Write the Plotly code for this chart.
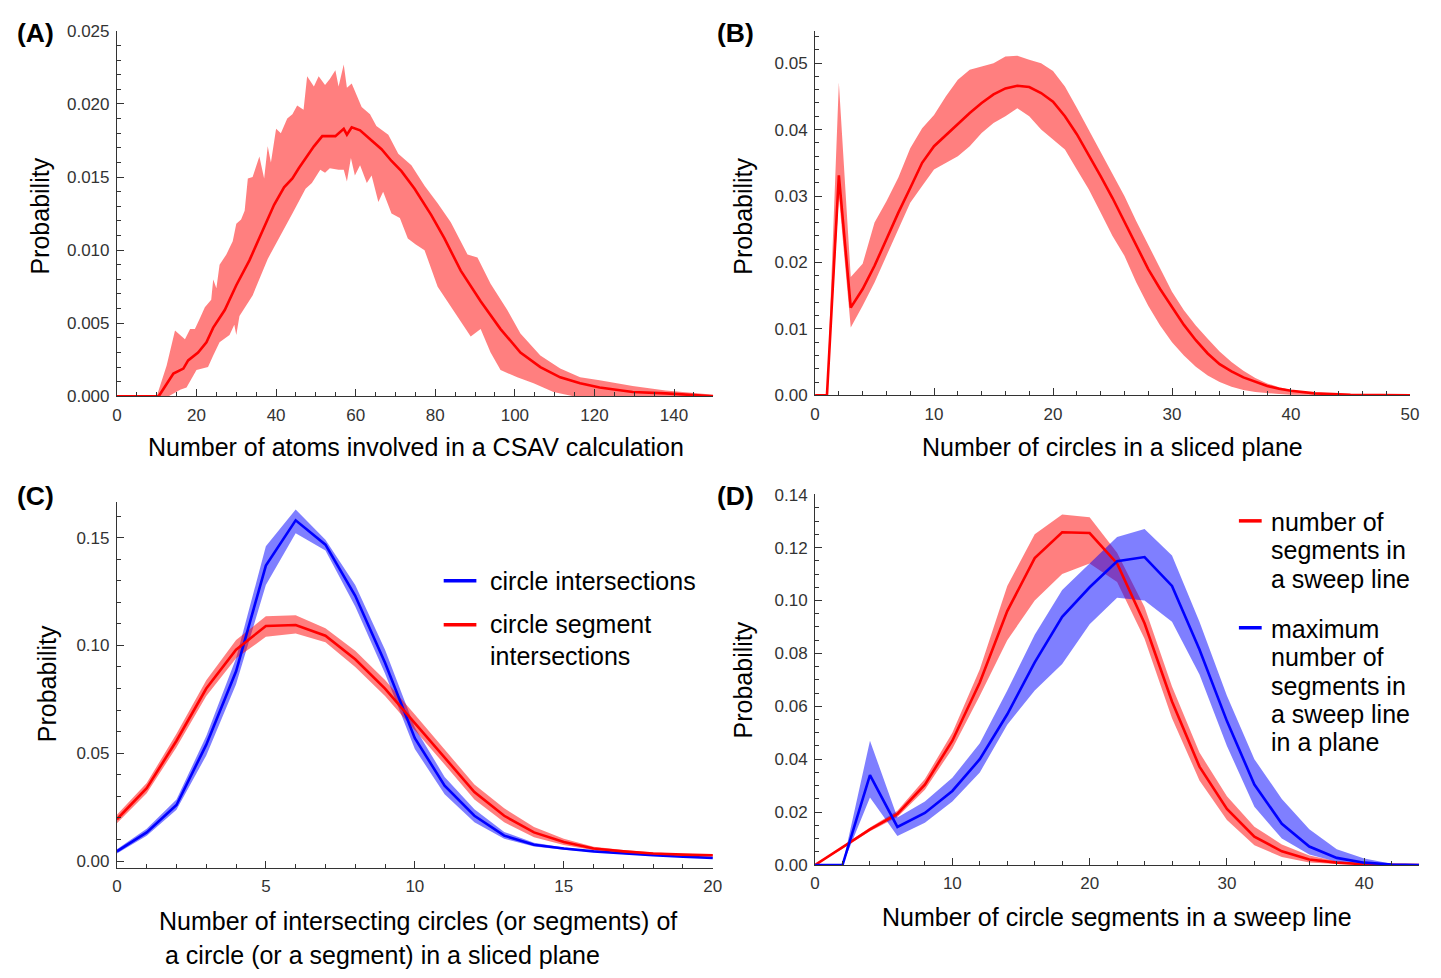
import plotly.graph_objects as go

W, H = 1441, 978

# ---------------- Panel A: atoms involved in a CSAV calculation ----------------
a_mean_x = [0, 10, 10.5, 14.2, 16.7, 17.9, 20.4, 22.5, 24.2, 27.1, 30.0, 33.3, 36.6, 39.5, 42.0,
            44.1, 45.7, 47.4, 49.5, 51.6, 54.9, 57.0, 57.8, 59.0, 61.1, 64.0, 66.5, 69.0, 71.5,
            74.8, 79.0, 82.3, 86.4, 91.4, 96.4, 101.4, 106.4, 111.4, 116.4, 121.3, 129.6, 137.9,
            150]
a_mean = [0, 0, 0, 0.00156, 0.0019, 0.00246, 0.0030, 0.0037, 0.0047, 0.0059, 0.0076, 0.0093,
          0.0113, 0.0131, 0.0143, 0.0149, 0.0156, 0.0163, 0.0171, 0.0178, 0.0178, 0.0183, 0.0179,
          0.0184, 0.0182, 0.0175, 0.0169, 0.0161, 0.0154, 0.0142, 0.0124, 0.0108, 0.0086, 0.0065,
          0.0046, 0.0030, 0.0020, 0.0013, 0.0009, 0.0006, 0.0003, 0.0002, 0.0]
a_up_x = [10, 12.5, 14.6, 15.4, 17.1, 18.4, 19.6, 20.8, 22.1, 23.7, 24.2, 25.0, 25.8, 27.5, 29.1,
          30.0, 31.2, 32.1, 32.9, 34.1, 35.8, 37.0, 37.9, 38.7, 40.0, 41.2, 42.8, 44.1, 45.3,
          46.9, 47.8, 49.5, 50.7, 52.3, 53.5, 54.9, 55.7, 57.0, 57.8, 59.0, 61.5, 63.6, 65.2,
          68.2, 70.7, 74.0, 77.3, 80.6, 83.9, 88.1, 90.6, 93.9, 98.1, 101.4, 106.4, 111.4, 116.4,
          121.3, 129.6, 137.9, 150]
a_up = [0, 0.0021, 0.0045, 0.0043, 0.0039, 0.0046, 0.0046, 0.0053, 0.0061, 0.0066, 0.0080, 0.0074,
        0.0090, 0.0097, 0.0106, 0.0118, 0.0121, 0.0127, 0.0149, 0.0150, 0.0164, 0.0149, 0.0171,
        0.0160, 0.0183, 0.0180, 0.0190, 0.0193, 0.0199, 0.0196, 0.0219, 0.0212, 0.0219, 0.0213,
        0.0217, 0.0223, 0.0212, 0.0227, 0.0211, 0.0214, 0.0198, 0.0193, 0.0185, 0.0179, 0.0166,
        0.0158, 0.0144, 0.0132, 0.0119, 0.0097, 0.0095, 0.0077, 0.0059, 0.0043, 0.0028, 0.0019,
        0.0013, 0.0011, 0.0007, 0.0004, 0.0001]
a_lo_x = [10, 13.0, 15.9, 17.5, 20.0, 22.9, 24.2, 25.8, 28.3, 29.5, 30.0, 30.8, 34.1, 37.9, 40.8,
          44.1, 47.4, 49.0, 51.1, 52.3, 53.5, 55.7, 57.0, 57.8, 58.8, 59.8, 61.1, 62.8, 64.0,
          65.7, 66.9, 69.0, 71.1, 73.1, 75.0, 77.3, 80.6, 83.9, 88.9, 91.4, 93.9, 96.4, 100.6,
          104.7, 109.7, 114.7, 150]
a_lo = [0, 0, 0.00045, 0.0006, 0.0018, 0.0020, 0.0028, 0.0037, 0.0042, 0.0049, 0.0042, 0.0055,
        0.0069, 0.0094, 0.0108, 0.0125, 0.0142, 0.0146, 0.0155, 0.0153, 0.0156, 0.0155, 0.0155,
        0.0147, 0.0163, 0.0151, 0.0158, 0.0146, 0.0151, 0.0133, 0.0140, 0.0125, 0.0122, 0.0108,
        0.0104, 0.0100, 0.0075, 0.0061, 0.0041, 0.0046, 0.0030, 0.0018, 0.0013, 0.0009, 0.0003,
        0.0, 0.0]

# ---------------- Panel B: circles in a sliced plane ----------------
b_x = [0, 1, 2, 3, 4, 5, 6, 7, 8, 9, 10, 11, 12, 13, 14, 15, 16, 17, 18, 19, 20, 21, 22, 23, 24,
       25, 26, 27, 28, 29, 30, 31, 32, 33, 34, 35, 36, 37, 38, 39, 40, 42, 45, 50]
b_mean = [0, 0, 0.0331, 0.0132, 0.0160, 0.0195, 0.0235, 0.0275, 0.0312, 0.0350, 0.0375, 0.0392,
          0.0408, 0.0425, 0.0440, 0.0453, 0.0462, 0.0466, 0.0464, 0.0455, 0.0442, 0.0420, 0.0393,
          0.0362, 0.0330, 0.0297, 0.0262, 0.0226, 0.0190, 0.0160, 0.0132, 0.0106, 0.0083, 0.0063,
          0.0047, 0.0036, 0.0027, 0.0020, 0.0014, 0.0010, 0.0007, 0.0003, 0.0001, 0.0]
b_up = [0, 0, 0.0471, 0.0178, 0.0198, 0.0260, 0.0292, 0.0328, 0.0372, 0.0402, 0.0422, 0.0450,
        0.0475, 0.0490, 0.0495, 0.0500, 0.0510, 0.0511, 0.0505, 0.0500, 0.0488, 0.0465, 0.0433,
        0.0400, 0.0368, 0.0335, 0.0300, 0.0262, 0.0226, 0.0190, 0.0156, 0.0128, 0.0105, 0.0085,
        0.0066, 0.0050, 0.0037, 0.0026, 0.0018, 0.0012, 0.0008, 0.0004, 0.0002, 0.0]
b_lo = [0, 0, 0.0300, 0.0102, 0.0135, 0.0170, 0.0210, 0.0250, 0.0290, 0.0315, 0.0340, 0.0350,
        0.0360, 0.0375, 0.0395, 0.0410, 0.0420, 0.0432, 0.0420, 0.0400, 0.0385, 0.0370, 0.0340,
        0.0310, 0.0275, 0.0240, 0.0210, 0.0170, 0.0135, 0.0105, 0.0080, 0.0060, 0.0043, 0.0030,
        0.0020, 0.0013, 0.0008, 0.0005, 0.0003, 0.0002, 0.0001, 0, 0, 0]

# ---------------- Panel C: intersecting circles / segments ----------------
c_x = list(range(21))
c_blue = [0.0045, 0.0133, 0.0260, 0.0540, 0.0880, 0.1370, 0.1580, 0.1467, 0.1230, 0.0920, 0.0570,
          0.0350, 0.0210, 0.0118, 0.0076, 0.0058, 0.0045, 0.0035, 0.0027, 0.0020, 0.0015]
c_blue_up = [0.0055, 0.0150, 0.0285, 0.0580, 0.0940, 0.1460, 0.1630, 0.1490, 0.1280, 0.0980,
             0.0620, 0.0390, 0.0240, 0.0135, 0.0085, 0.0063, 0.0048, 0.0037, 0.0029, 0.0022, 0.0017]
c_blue_lo = [0.0035, 0.0118, 0.0238, 0.0490, 0.0820, 0.1280, 0.1520, 0.1440, 0.1180, 0.0870,
             0.0520, 0.0310, 0.0180, 0.0103, 0.0068, 0.0053, 0.0042, 0.0033, 0.0025, 0.0018, 0.0013]
c_red = [0.0194, 0.0338, 0.0558, 0.0800, 0.0980, 0.1090, 0.1095, 0.1045, 0.0936, 0.0800, 0.0640,
         0.0480, 0.0320, 0.0210, 0.0133, 0.0088, 0.0058, 0.0045, 0.0035, 0.0030, 0.0027]
c_red_up = [0.0215, 0.0362, 0.0590, 0.0838, 0.1025, 0.1135, 0.1140, 0.1080, 0.0975, 0.0840, 0.0680,
            0.0515, 0.0355, 0.0245, 0.0158, 0.0103, 0.0067, 0.0051, 0.0040, 0.0034, 0.0030]
c_red_lo = [0.0175, 0.0315, 0.0528, 0.0765, 0.0940, 0.1040, 0.1055, 0.1015, 0.0900, 0.0765, 0.0605,
            0.0448, 0.0285, 0.0180, 0.0110, 0.0075, 0.0050, 0.0040, 0.0031, 0.0026, 0.0024]

# ---------------- Panel D: circle segments in a sweep line ----------------
d_x = [0, 2, 4, 6, 8, 10, 12, 14, 16, 18, 20, 22, 24, 26, 28, 30, 32, 34, 36, 38, 40, 42, 44]
d_red = [0, 0.0066, 0.0135, 0.0193, 0.0304, 0.0470, 0.0690, 0.0960, 0.1160, 0.1258, 0.1255, 0.1140,
         0.0914, 0.0618, 0.0372, 0.0212, 0.0107, 0.0052, 0.0021, 0.0009, 0.0003, 0.0001, 0]
d_red_up = [0, 0.0070, 0.0142, 0.0205, 0.0325, 0.0500, 0.0740, 0.1055, 0.1250, 0.1325, 0.1315,
            0.1180, 0.0975, 0.0675, 0.0425, 0.0260, 0.0145, 0.0078, 0.0036, 0.0014, 0.0005, 0.0001, 0]
d_red_lo = [0, 0.0062, 0.0128, 0.0182, 0.0285, 0.0440, 0.0640, 0.0850, 0.1000, 0.1100, 0.1140,
            0.1070, 0.0855, 0.0555, 0.0320, 0.0170, 0.0075, 0.0030, 0.0010, 0.0004, 0.0001, 0, 0]
d_blue = [0, 0, 0.0340, 0.0144, 0.0197, 0.0280, 0.0400, 0.0570, 0.0766, 0.0938, 0.1050, 0.1148,
          0.1164, 0.1055, 0.0815, 0.0544, 0.0304, 0.0156, 0.0070, 0.0027, 0.0009, 0.0002, 0]
d_blue_up = [0, 0, 0.0470, 0.0180, 0.0240, 0.0330, 0.0460, 0.0660, 0.0870, 0.1040, 0.1140, 0.1240,
             0.1270, 0.1170, 0.0920, 0.0640, 0.0400, 0.0250, 0.0135, 0.0060, 0.0025, 0.0005, 0]
d_blue_lo = [0, 0, 0.0255, 0.0110, 0.0160, 0.0240, 0.0350, 0.0530, 0.0660, 0.0760, 0.0910, 0.1010,
             0.1000, 0.0920, 0.0720, 0.0450, 0.0220, 0.0100, 0.0040, 0.0012, 0.0003, 0, 0]

RED, RED_BAND = "#ff0000", "rgba(255,0,0,0.5)"
BLUE, BLUE_BAND = "#0000ff", "rgba(0,0,255,0.5)"
FONT = "Liberation Sans, Arial, sans-serif"


def px(x):
    return x / W


def py(y):
    return 1 - y / H


fig = go.Figure()


def add_band(xu, yu, xl, yl, color, xa, ya):
    fig.add_trace(go.Scatter(
        x=list(xu) + list(xl)[::-1], y=list(yu) + list(yl)[::-1],
        mode="lines", fill="toself", fillcolor=color, line=dict(width=0),
        hoverinfo="skip", showlegend=False, xaxis=xa, yaxis=ya))


def add_line(x, y, color, xa, ya):
    fig.add_trace(go.Scatter(
        x=x, y=y, mode="lines", line=dict(color=color, width=2.6),
        showlegend=False, xaxis=xa, yaxis=ya))


# A
add_band(a_up_x, a_up, a_lo_x, a_lo, RED_BAND, "x", "y")
add_line(a_mean_x, a_mean, RED, "x", "y")
# B
add_band(b_x, b_up, b_x, b_lo, RED_BAND, "x2", "y2")
add_line(b_x, b_mean, RED, "x2", "y2")
# C
add_band(c_x, c_blue_up, c_x, c_blue_lo, BLUE_BAND, "x3", "y3")
add_band(c_x, c_red_up, c_x, c_red_lo, RED_BAND, "x3", "y3")
add_line(c_x, c_blue, BLUE, "x3", "y3")
add_line(c_x, c_red, RED, "x3", "y3")
# D
add_band(d_x, d_red_up, d_x, d_red_lo, RED_BAND, "x4", "y4")
add_band(d_x, d_blue_up, d_x, d_blue_lo, BLUE_BAND, "x4", "y4")
add_line(d_x, d_red, RED, "x4", "y4")
add_line(d_x, d_blue, BLUE, "x4", "y4")


def axis(dom, rng, dtick, mdtick, fmt, anchor):
    return dict(
        domain=dom, range=rng, tick0=0, dtick=dtick, tickformat=fmt,
        ticks="inside", ticklen=7, tickwidth=1, tickcolor="#333",
        minor=dict(dtick=mdtick, tick0=0, ticks="inside", ticklen=4, tickwidth=1,
                   tickcolor="#333", showgrid=False),
        showline=True, linecolor="#333", linewidth=1, ticklabelstandoff=3,
        showgrid=False, zeroline=False, anchor=anchor,
        tickfont=dict(family=FONT, size=17, color="#333"))


fig.update_layout(
    width=W, height=H, margin=dict(l=0, r=0, t=0, b=0),
    paper_bgcolor="white", plot_bgcolor="white", showlegend=False,
    xaxis=axis([px(113), px(715)], [0, 149.8], 20, 5, "d", "y"),
    yaxis=axis([py(395), py(22)], [0, 0.02502], 0.005, 0.001, ".3f", "x"),
    xaxis2=axis([px(818), px(1419)], [0, 50.02], 10, 2, "d", "y2"),
    yaxis2=axis([py(394), py(22)], [0, 0.0549], 0.01, 0.002, ".2f", "x2"),
    xaxis3=axis([px(113), px(715)], [0, 20.01], 5, 1, "d", "y3"),
    yaxis3=axis([py(876), py(503)], [-0.0032, 0.1664], 0.05, 0.01, ".2f", "x3"),
    xaxis4=axis([px(818), px(1428)], [0, 44], 10, 2, "d", "y4"),
    yaxis4=axis([py(873), py(495)], [0, 0.1401], 0.02, 0.005, ".2f", "x4"),
)

ann = []


def text(x, y, s, size=25, xanchor="center", angle=0, bold=False):
    ann.append(dict(
        x=px(x), y=py(y), xref="paper", yref="paper", text=f"<b>{s}</b>" if bold else s,
        showarrow=False, xanchor=xanchor, yanchor="middle", textangle=angle,
        font=dict(family=FONT, size=size, color="black")))


# panel tags
text(31, 24, "(A)", 26.5, bold=True)
text(738, 24, "(B)", 26.5, bold=True)
text(31, 497, "(C)", 26.5, bold=True)
text(738, 497, "(D)", 26.5, bold=True)

# axis titles
text(415, 447, "Number of atoms involved in a CSAV calculation")
text(35, 211, "Probability", angle=-90)
text(1118, 447, "Number of circles in a sliced plane")
text(745, 211, "Probability", angle=-90)
text(153, 930, "Number of intersecting circles (or segments) of", xanchor="left")
text(160, 965, "a circle (or a segment) in a sliced plane", xanchor="left")
text(42, 688, "Probability", angle=-90)
text(1123, 926, "Number of circle segments in a sweep line")
text(745, 684, "Probability", angle=-90)

# legend entries
c_legend = [(583, "circle intersections"), (627, "circle segment"), (660, "intersections")]
for yy, s in c_legend:
    text(488, yy, s, xanchor="left")
d_legend = [(523, "number of"), (552, "segments in"), (581, "a sweep line"),
            (632, "maximum"), (661, "number of"), (690, "segments in"),
            (719, "a sweep line"), (748, "in a plane")]
for yy, s in d_legend:
    text(1276, yy, s, xanchor="left")

shapes = []


def legend_line(x0, x1, y, color):
    shapes.append(dict(type="line", xref="paper", yref="paper",
                       x0=px(x0), x1=px(x1), y0=py(y), y1=py(y),
                       line=dict(color=color, width=3.5)))


legend_line(443, 476, 583, BLUE)
legend_line(443, 476, 628, RED)
legend_line(1246, 1269, 522, RED)
legend_line(1246, 1269, 631, BLUE)

fig.update_layout(annotations=ann, shapes=shapes)
fig.write_html("out.html", post_script="document.body.style.margin='0';")
